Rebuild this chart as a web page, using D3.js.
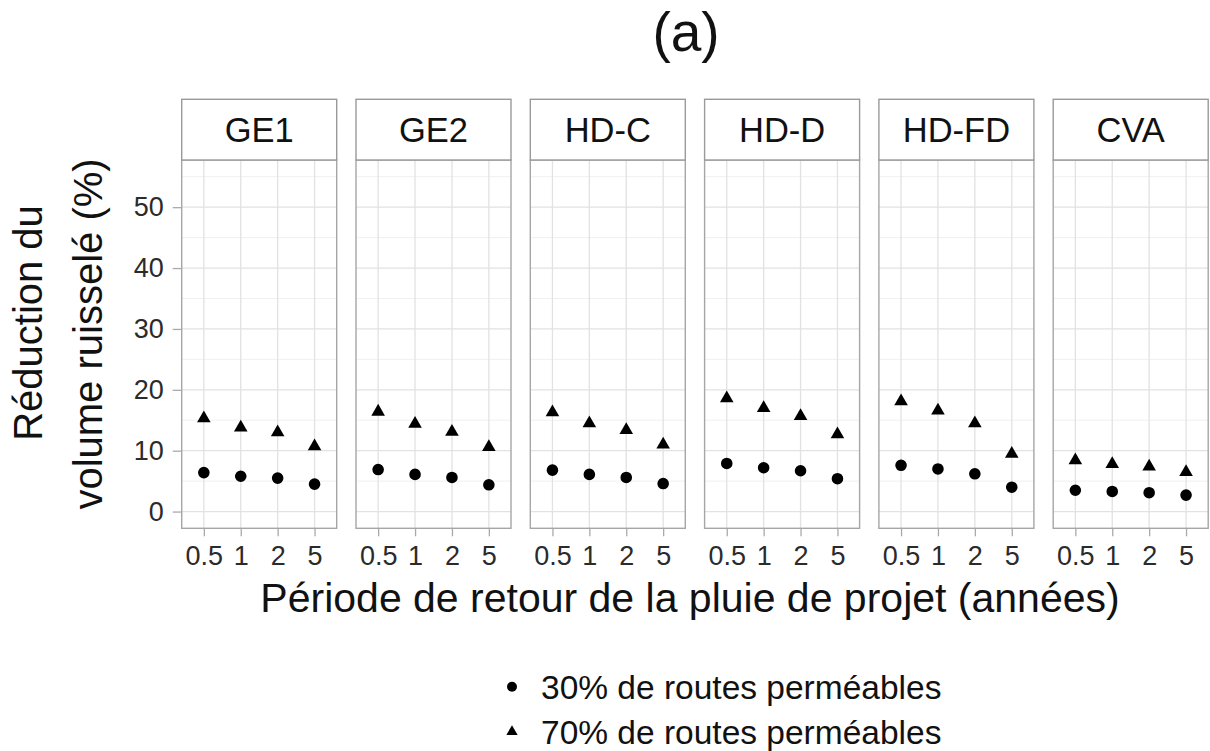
<!DOCTYPE html>
<html>
<head>
<meta charset="utf-8">
<script src="https://cdn.jsdelivr.net/npm/d3@7/dist/d3.min.js"></script>
<style>
  html, body { margin: 0; padding: 0; background: #fff; }
  svg { display: block; font-family: "Liberation Sans", Arial, Helvetica, sans-serif; }
</style>
</head>
<body>
<svg id="chart" width="1210" height="751"></svg>
<script>
// Facets (one panel per scenario)
const scenarios = ["GE1", "GE2", "HD-C", "HD-D", "HD-FD", "CVA"];
// Return periods of the design storm (years)
const periods = ["0.5", "1", "2", "5"];
// Runoff volume reduction (%) with 30% permeable roads, per scenario
const red30 = [
  [6.4, 5.8, 5.5, 4.5],
  [6.9, 6.1, 5.6, 4.4],
  [6.8, 6.1, 5.6, 4.6],
  [7.9, 7.2, 6.7, 5.4],
  [7.6, 7.0, 6.2, 4.0],
  [3.5, 3.3, 3.1, 2.7]
];
// Runoff volume reduction (%) with 70% permeable roads, per scenario
const red70 = [
  [15.3, 13.8, 13.0, 10.7],
  [16.4, 14.4, 13.1, 10.6],
  [16.3, 14.5, 13.4, 11.0],
  [18.6, 17.0, 15.7, 12.7],
  [18.1, 16.6, 14.5, 9.5],
  [8.4, 7.8, 7.4, 6.5]
];
const yTicks = [0, 10, 20, 30, 40, 50];
const yMinor = [5, 15, 25, 35, 45, 55];
const legendLabels = ["30% de routes perméables", "70% de routes perméables"];

const svg = d3.select("#chart");

// Layout
const panelTop = 160, panelBottom = 528.3;
const stripTop = 99.3;
const panelLeft0 = 181.7, panelW = 155, panelStep = 174.3;

const y = d3.scaleLinear().domain([-2.75, 57.75]).range([panelBottom, panelTop]);
const x = d3.scalePoint().domain(periods).range([0, panelW]).padding(0.6);

const circleSym = d3.symbol().type(d3.symbolCircle).size(Math.PI * 5.8 * 5.8);
const triSym = d3.symbol().type(d3.symbolTriangle).size(80);

scenarios.forEach((name, i) => {
  const px = panelLeft0 + i * panelStep;
  const g = svg.append("g").attr("transform", `translate(${px},0)`);

  // panel background
  g.append("rect").attr("x", 0).attr("y", panelTop)
    .attr("width", panelW).attr("height", panelBottom - panelTop)
    .attr("fill", "#fff");

  // minor gridlines
  g.selectAll(".ymin").data(yMinor).join("line")
    .attr("x1", 0).attr("x2", panelW)
    .attr("y1", d => y(d)).attr("y2", d => y(d))
    .attr("stroke", "#f0f0f0").attr("stroke-width", 1);

  // major gridlines
  g.selectAll(".ymaj").data(yTicks).join("line")
    .attr("x1", 0).attr("x2", panelW)
    .attr("y1", d => y(d)).attr("y2", d => y(d))
    .attr("stroke", "#e2e2e2").attr("stroke-width", 1.3);
  g.selectAll(".xmaj").data(periods).join("line")
    .attr("x1", d => x(d)).attr("x2", d => x(d))
    .attr("y1", panelTop).attr("y2", panelBottom)
    .attr("stroke", "#e2e2e2").attr("stroke-width", 1.3);

  // x axis
  const xAxis = g.append("g").attr("transform", `translate(0,${panelBottom})`)
    .call(d3.axisBottom(x).tickSize(8).tickPadding(10));
  xAxis.select(".domain").remove();
  xAxis.selectAll(".tick line").attr("stroke", "#aaaaaa").attr("stroke-width", 1.3);
  xAxis.selectAll(".tick text").attr("fill", "#2b2b2b").attr("font-size", 27)
    .attr("font-family", "Liberation Sans, Arial, sans-serif");

  // points: 30%
  g.selectAll(".p30").data(red30[i]).join("path")
    .attr("d", circleSym)
    .attr("transform", (d, j) => `translate(${x(periods[j])},${y(d)})`)
    .attr("fill", "#000");
  // points: 70%
  g.selectAll(".p70").data(red70[i]).join("path")
    .attr("d", triSym)
    .attr("transform", (d, j) => `translate(${x(periods[j])},${y(d)})`)
    .attr("fill", "#000");

  // panel border
  g.append("rect").attr("x", 0).attr("y", panelTop)
    .attr("width", panelW).attr("height", panelBottom - panelTop)
    .attr("fill", "none").attr("stroke", "#a6a6a6").attr("stroke-width", 1.4);

  // strip
  g.append("rect").attr("x", 0).attr("y", stripTop)
    .attr("width", panelW).attr("height", panelTop - stripTop)
    .attr("fill", "#fff").attr("stroke", "#9a9a9a").attr("stroke-width", 1.4);
  g.append("text").attr("x", panelW / 2).attr("y", 142)
    .attr("text-anchor", "middle").attr("font-size", 34.5).attr("fill", "#111")
    .text(name);
});

// y axis on the first panel
const yAxis = svg.append("g").attr("transform", `translate(${panelLeft0},0)`)
  .call(d3.axisLeft(y).tickValues(yTicks).tickSize(9).tickPadding(9));
yAxis.select(".domain").remove();
yAxis.selectAll(".tick line").attr("stroke", "#aaaaaa").attr("stroke-width", 1.3);
yAxis.selectAll(".tick text").attr("fill", "#2b2b2b").attr("font-size", 27)
  .attr("font-family", "Liberation Sans, Arial, sans-serif");

// title
svg.append("text").attr("x", 686).attr("y", 51).attr("text-anchor", "middle")
  .attr("font-size", 55).attr("fill", "#111").text("(a)");

// x axis title
svg.append("text").attr("x", 690).attr("y", 612).attr("text-anchor", "middle")
  .attr("font-size", 41).attr("fill", "#111")
  .text("Période de retour de la pluie de projet (années)");

// y axis title (two lines)
const yTitle = svg.append("text")
  .attr("transform", "translate(0,334) rotate(-90)")
  .attr("text-anchor", "middle").attr("font-size", 40).attr("fill", "#111");
yTitle.append("tspan").attr("x", 11).attr("y", 42).text("Réduction du");
yTitle.append("tspan").attr("x", 0).attr("y", 102).text("volume ruisselé (%)");

// legend
const legend = svg.append("g");
const legendSyms = [d3.symbol().type(d3.symbolCircle).size(Math.PI * 5 * 5),
                    d3.symbol().type(d3.symbolTriangle).size(55)];
legendLabels.forEach((lab, k) => {
  const cy = 686.7 + k * 45;
  legend.append("path").attr("d", legendSyms[k])
    .attr("transform", `translate(512,${cy})`).attr("fill", "#000");
  legend.append("text").attr("x", 541).attr("y", cy + 12)
    .attr("font-size", 33.5).attr("fill", "#111").text(lab);
});
</script>
</body>
</html>
